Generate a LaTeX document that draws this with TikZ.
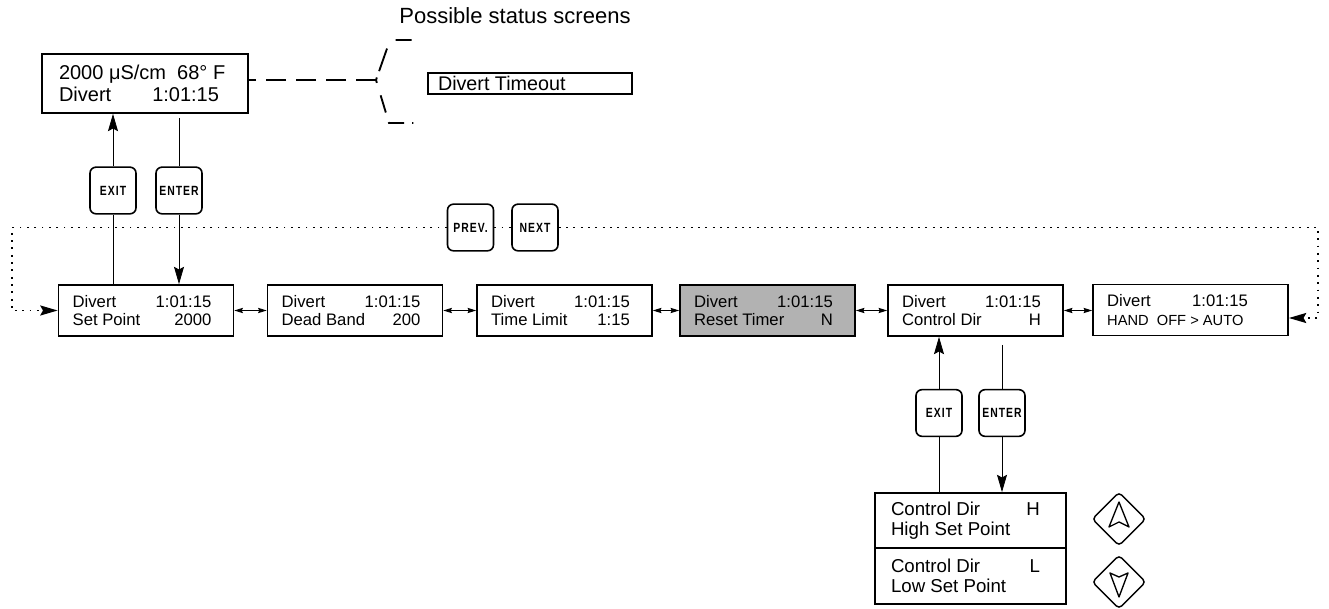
\documentclass[tikz,border=0pt]{standalone}
\usepackage{fontspec}
\setmainfont{Liberation Sans}
\newfontfamily\keyfont{Liberation Sans}[LetterSpace=10]
\usepackage{graphicx}
\usepackage{tikz}
\usetikzlibrary{arrows.meta,positioning,shapes.geometric,calc}
\definecolor{screengray}{RGB}{178,178,178}
\newcommand{\scr}[2]{\makebox[110pt][l]{#1\hfill#2\hspace{6pt}}}
\newcommand{\keytext}[1]{\scalebox{0.78}[1]{\keyfont\bfseries\fontsize{10}{11}\selectfont #1}}

\begin{document}
\begin{tikzpicture}[
    x=0.75pt, y=-0.75pt,
    >={Stealth[length=13pt,width=7.5pt,inset=2pt]},
    screenbox/.style={
        rectangle,
        draw,
        line width=1.3pt,
        minimum width=131.25pt,
        minimum height=38.25pt,
        inner sep=0pt,
        align=center,
        font=\fontsize{12.5}{13.8}\selectfont
    },
    keybtn/.style={
        rectangle,
        rounded corners=4.5pt,
        draw,
        line width=1.2pt,
        minimum width=34.5pt,
        minimum height=35pt,
        inner sep=0pt
    },
    arrowkey/.style={
        diamond,
        draw,
        rounded corners=3pt,
        line width=1.1pt,
        minimum width=40.5pt,
        minimum height=40.5pt,
        inner sep=0pt
    },
    conn/.style={
        line width=0.6pt
    },
    doublearrow/.style={
        <->,
        >={Stealth[length=6.5pt,width=4pt,inset=1pt]},
        line width=0.6pt
    },
    scroll/.style={
        line width=1.4pt,
        dash pattern=on 1.3pt off 4.2pt
    },
    statusline/.style={
        line width=1.4pt,
        dash pattern=on 15pt off 7.5pt
    }
]
\useasboundingbox (0,0) rectangle (1329,609);

% Status screen
\node[screenbox, minimum width=154.5pt, minimum height=44.25pt, font=\fontsize{15}{16.5}\selectfont] (status) at (145,83.5)
    {\makebox[129pt][l]{2000 μS/cm~~68° F}\\\makebox[129pt]{Divert\hfill 1:01:15\hspace{9pt}}};
\node[font=\fontsize{16.5}{18}\selectfont] (title) at (515,15.5) {Possible status screens};
\node[screenbox, minimum width=153pt, minimum height=15.75pt, font=\fontsize{14.8}{16}\selectfont] (timeout) at (530,83.5)
    {\makebox[138pt][l]{Divert Timeout}};

% Fork to the status screens
\coordinate (fork) at (376,80);
\coordinate (forkup) at (415,40);
\coordinate (forkdown) at (415,123);
\draw[statusline] (fork) -- (status.east |- fork);
\draw[line width=1.4pt, dash pattern=on 2pt off 5pt on 18pt off 11pt on 12pt off 20pt] (fork) -- ++(14,-40) -- (forkup);
\draw[line width=1.4pt, dash pattern=on 2.25pt off 9.75pt on 13.5pt off 7.5pt on 12pt off 6pt on 1pt off 5pt] (fork) -- ++(13,43) -- (forkdown);

% Keys
\node[keybtn] (exit1) at (113,190.5) {\keytext{EXIT}};
\node[keybtn] (enter1) at (179,190.5) {\keytext{ENTER}};
\node[keybtn] (prev) at (470.5,227.5) {\keytext{PREV.}};
\node[keybtn] (next) at (535,227.5) {\keytext{NEXT}};
\node[keybtn] (exit2) at (939,413) {\keytext{EXIT}};
\node[keybtn] (enter2) at (1002,413) {\keytext{ENTER}};

% Menu screens
\node[screenbox] (setpoint) at (146,310.5) {\scr{Divert}{1:01:15}\\\scr{Set Point}{2000}};
\node[screenbox] (deadband) at (355,310.5) {\scr{Divert}{1:01:15}\\\scr{Dead Band}{200}};
\node[screenbox] (timelimit) at (564.5,310.5) {\scr{Divert}{1:01:15}\\\scr{Time Limit}{1:15}};
\node[screenbox, fill=screengray] (reset) at (767.5,310.5) {\scr{Divert}{1:01:15}\\\scr{Reset Timer}{N}};
\node[screenbox] (controldir) at (975.5,310.5) {\scr{Divert}{1:01:15}\\\scr{Control Dir}{H}};
\node[screenbox, minimum width=146.25pt] (hand) at (1190.5,310) {\makebox[125pt][l]{Divert\hfill 1:01:15\hspace{19.5pt}}\\\makebox[125pt][l]{\fontsize{11}{13.8}\selectfont HAND~~OFF > AUTO}};

% Control direction screens
\node[screenbox, minimum width=143.25pt, minimum height=41.25pt, font=\fontsize{14}{15}\selectfont] (highsp) at (970.5,520.5)
    {\makebox[119.25pt]{Control Dir\hfill H\hspace{7.5pt}}\\\makebox[119.25pt][l]{High Set Point}};
\node[screenbox, minimum width=143.25pt, minimum height=42pt, font=\fontsize{14}{15}\selectfont] (lowsp) at (970.5,576)
    {\makebox[119.25pt]{Control Dir\hfill L\hspace{7.5pt}}\\\makebox[119.25pt][l]{Low Set Point}};

% Up / down keys
\node[arrowkey] (up) at (1119,519) {};
\node[arrowkey] (down) at (1119,582) {};
\draw[line width=1pt, line join=round, shift={(up.center)}] (0,-17) -- (10,8) -- (0,3) -- (-10,8) -- cycle;
\draw[line width=1pt, line join=round, shift={(down.center)}] (0,15) -- (9,-9) -- (0,-5) -- (-9,-9) -- cycle;

% Enter / exit
\draw[conn, ->] (exit1.north) -- (exit1.north |- status.south);
\draw[conn] (setpoint.north -| exit1.south) -- (exit1.south);
\draw[conn, shorten <=3pt] (status.south -| enter1.north) -- (enter1.north);
\draw[conn, ->] (enter1.south) -- (enter1.south |- setpoint.north);
\draw[conn, ->] (exit2.north) -- (exit2.north |- controldir.south);
\draw[conn] (highsp.north -| exit2.south) -- (exit2.south);
\draw[conn, shorten <=6pt] (controldir.south -| enter2.north) -- (enter2.north);
\draw[conn, ->] (enter2.south) -- (enter2.south |- highsp.north);

% Between screens
\draw[doublearrow] (setpoint.east) -- (deadband.west);
\draw[doublearrow] (deadband.east) -- (timelimit.west);
\draw[doublearrow] (timelimit.east) -- (reset.west);
\draw[doublearrow] (reset.east) -- (controldir.west);
\draw[doublearrow] (controldir.east) -- (controldir.east -| hand.west);

% Prev / next loop
\coordinate (loopleft) at (12,227.5);
\coordinate (loopright) at (1318,227.5);
\draw[scroll, ->] (prev.west) -- (loopleft) |- (setpoint.west);
\draw[scroll] (prev.east) -- (next.west);
\draw[scroll, ->] (next.east) -- (loopright) |- ([yshift=-6pt]hand.east);

\end{tikzpicture}
\end{document}
